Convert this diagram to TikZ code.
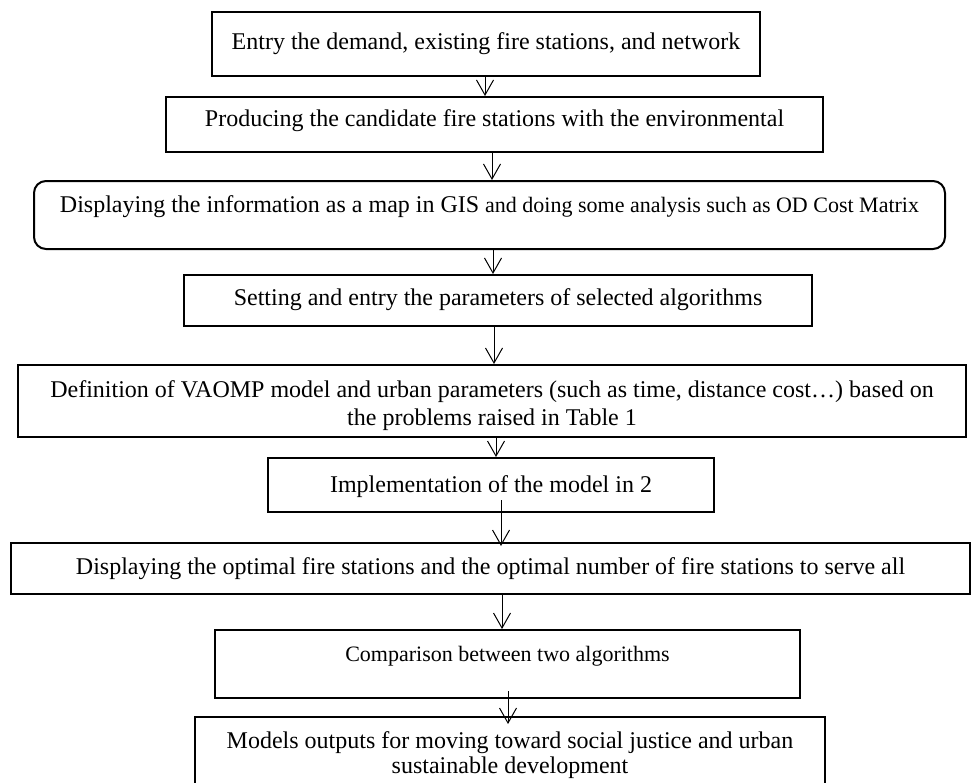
\documentclass[tikz,border=0pt]{standalone}
\usepackage{fontspec}
\setmainfont{Liberation Serif}
\usepackage{tikz}
\usetikzlibrary{arrows.meta, positioning, calc}

\begin{document}
\begin{tikzpicture}[x=0.5pt, y=-0.5pt,
  stepbox/.style={rectangle, draw=black, line width=1pt, inner sep=0pt,
                  align=center, anchor=base, font=\fontsize{12}{14}\selectfont},
  roundbox/.style={stepbox, rounded corners=6pt},
  flow/.style={-{Straight Barb[length=7.5pt, width=8.5pt]}, line width=0.5pt}
]
\useasboundingbox (0,0) rectangle (972,782);
\clip (0,0) rectangle (972,782);

\node[stepbox, minimum width=274pt, text height=18.5pt, text depth=13.5pt] (en) at (486, 49)
  {Entry the demand, existing fire stations, and network};
\node[stepbox, minimum width=328.5pt, text height=14.5pt, text depth=13pt] (pc) at (494.5, 126)
  {Producing the candidate fire stations with the environmental};
\node[roundbox, minimum width=455.5pt, text height=15.5pt, text depth=18.5pt] (dm) at (489.5, 212)
  {Displaying the information as a map in GIS {\fontsize{11}{13}\selectfont and doing some analysis such as OD Cost Matrix}};
\node[stepbox, minimum width=314pt, text height=15pt, text depth=10.5pt] (sp) at (498, 305)
  {Setting and entry the parameters of selected algorithms};
% two lines: base is the last line
\node[stepbox, minimum width=474pt, text height=30pt, text depth=6pt] (dv) at (492, 425)
  {Definition of VAOMP model and urban parameters (such as time, distance cost…) based on\\the problems raised in Table 1};
\node[stepbox, minimum width=223pt, text height=17pt, text depth=10pt] (im) at (491, 492)
  {Implementation of the model in 2};
\node[stepbox, minimum width=479.5pt, text height=15.5pt, text depth=10pt] (do) at (490.5, 574)
  {Displaying the optimal fire stations and the optimal number of fire stations to serve all};
\node[stepbox, minimum width=292.5pt, text height=15.5pt, text depth=18.5pt,
      font=\fontsize{11}{13}\selectfont] (cp) at (507.5, 661)
  {Comparison between two algorithms};
\node[stepbox, minimum width=315pt, text height=28pt, text depth=10pt,
      font=\fontsize{12}{12.5}\selectfont] (mo) at (510, 773)
  {Models outputs for moving toward social justice and urban\\sustainable development};

% arrow axes
\coordinate (a1) at (485,0);
\coordinate (a2) at (492,0);
\coordinate (a3) at (493,0);
\coordinate (a4) at (494,0);
\coordinate (a5) at (496,0);
\coordinate (s6) at (501,500);
\coordinate (a7) at (502,0);
\coordinate (s8) at (508,691);

\draw[flow] (en.south -| a1) -- (pc.north -| a1);
\draw[flow] (pc.south -| a2) -- (dm.north -| a2);
\draw[flow] (dm.south -| a3) -- (sp.north -| a3);
\draw[flow] (sp.south -| a4) -- (dv.north -| a4);
\draw[flow] (dv.south -| a5) -- (im.north -| a5);
\draw[flow] (s6) -- ($(do.north -| s6)+(0,4)$);
\draw[flow] (do.south -| a7) -- (cp.north -| a7);
\draw[flow] (s8) -- ($(mo.north -| s8)+(0,8)$);
\end{tikzpicture}
\end{document}
